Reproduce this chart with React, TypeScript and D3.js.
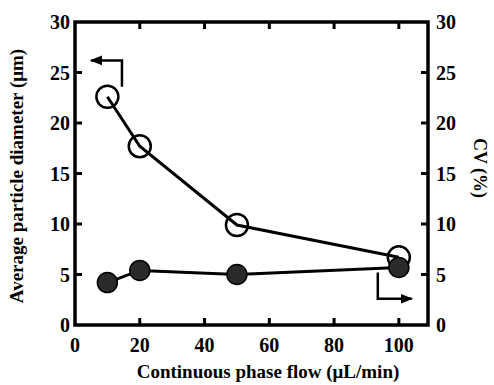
import React from "react";
import * as d3 from "d3";

const width = 494;
const height = 385;
const margin = { left: 75, right: 66, top: 22, bottom: 60 };

// flow rates (uL/min)
const flows = [10, 20, 50, 100];
// average particle diameter (um) - open circles, left axis
const diameters = [22.6, 17.7, 9.9, 6.7];
// CV (%) - filled circles, right axis
const cvs = [4.2, 5.4, 5.0, 5.7];

const xTicks = [0, 20, 40, 60, 80, 100];
const yTicks = [0, 5, 10, 15, 20, 25, 30];

const font = "'Liberation Serif', 'DejaVu Serif', serif";

export default function App() {
  const x = d3
    .scaleLinear()
    .domain([0, 109])
    .range([margin.left, width - margin.right]);
  const yL = d3
    .scaleLinear()
    .domain([0, 30])
    .range([height - margin.bottom, margin.top]);
  const yR = d3
    .scaleLinear()
    .domain([0, 30])
    .range([height - margin.bottom, margin.top]);

  const diamLine = d3
    .line<number>()
    .x((d, i) => x(flows[i]))
    .y(d => yL(d));
  const cvLine = d3
    .line<number>()
    .x((d, i) => x(flows[i]))
    .y(d => yR(d));

  const x0 = x(0);
  const x1 = width - margin.right;
  const y0 = height - margin.bottom;
  const y1 = margin.top;

  // legend arrows, placed in data units
  const la = { xs: x(14.5), xe: x(5), yb: yL(23.6), yt: yL(26.2) };
  const ra = { xs: x(93.5), xe: x(104), yt: yR(5.2), yb: yR(2.6) };

  return (
    <svg
      width={width}
      height={height}
      style={{ position: "absolute", left: 0, top: 0, background: "#fff" }}
    >
      <defs>
        <marker
          id="ah"
          viewBox="0 0 10 10"
          refX="9"
          refY="5"
          markerWidth="5"
          markerHeight="5"
          orient="auto"
        >
          <path d="M0,1 L10,5 L0,9 Z" fill="#000" />
        </marker>
      </defs>

      {/* frame */}
      <rect
        x={x0}
        y={y1}
        width={x1 - x0}
        height={y0 - y1}
        fill="none"
        stroke="#000"
        strokeWidth={3.5}
      />

      {/* x ticks */}
      {xTicks.map(t => (
        <g key={"x" + t}>
          {t > 0 && (
            <>
              <line x1={x(t)} x2={x(t)} y1={y0} y2={y0 - 7} stroke="#000" strokeWidth={3} />
              <line x1={x(t)} x2={x(t)} y1={y1} y2={y1 + 7} stroke="#000" strokeWidth={3} />
            </>
          )}
          <text
            x={x(t)}
            y={y0 + 27}
            textAnchor="middle"
            fontFamily={font}
            fontWeight="bold"
            fontSize={20}
          >
            {t}
          </text>
        </g>
      ))}

      {/* y ticks left and right */}
      {yTicks.map(t => (
        <g key={"y" + t}>
          {t > 0 && t < 30 && (
            <>
              <line x1={x0} x2={x0 + 7} y1={yL(t)} y2={yL(t)} stroke="#000" strokeWidth={3} />
              <line x1={x1} x2={x1 - 7} y1={yR(t)} y2={yR(t)} stroke="#000" strokeWidth={3} />
            </>
          )}
          <text
            x={x0 - 5}
            y={yL(t) + 7}
            textAnchor="end"
            fontFamily={font}
            fontWeight="bold"
            fontSize={20}
          >
            {t}
          </text>
          <text
            x={x1 + 8}
            y={yR(t) + 7}
            textAnchor="start"
            fontFamily={font}
            fontWeight="bold"
            fontSize={20}
          >
            {t}
          </text>
        </g>
      ))}

      {/* lines */}
      <path d={diamLine(diameters) || ""} fill="none" stroke="#000" strokeWidth={3} />
      <path d={cvLine(cvs) || ""} fill="none" stroke="#000" strokeWidth={3} />

      {/* diameter points, open */}
      {diameters.map((v, i) => (
        <circle
          key={"d" + i}
          cx={x(flows[i])}
          cy={yL(v)}
          r={11}
          fill="none"
          stroke="#000"
          strokeWidth={2.5}
        />
      ))}

      {/* CV points, filled */}
      {cvs.map((v, i) => (
        <circle key={"c" + i} cx={x(flows[i])} cy={yR(v)} r={10} fill="#2a2a2a" stroke="#000" strokeWidth={1.5} />
      ))}

      {/* legend arrows */}
      <path
        d={`M${la.xs},${la.yb} L${la.xs},${la.yt} L${la.xe},${la.yt}`}
        fill="none"
        stroke="#000"
        strokeWidth={2.5}
        markerEnd="url(#ah)"
      />
      <path
        d={`M${ra.xs},${ra.yt} L${ra.xs},${ra.yb} L${ra.xe},${ra.yb}`}
        fill="none"
        stroke="#000"
        strokeWidth={2.5}
        markerEnd="url(#ah)"
      />

      {/* axis titles */}
      <text
        transform={`translate(23,${176}) rotate(-90)`}
        textAnchor="middle"
        fontFamily={font}
        fontWeight="bold"
        fontSize={19}
      >
        Average particle diameter (μm)
      </text>
      <text
        transform={`translate(474,${168}) rotate(90)`}
        textAnchor="middle"
        fontFamily={font}
        fontWeight="bold"
        fontSize={18}
      >
        CV (%)
      </text>
      <text
        x={268}
        y={378}
        textAnchor="middle"
        fontFamily={font}
        fontWeight="bold"
        fontSize={19}
      >
        Continuous phase flow (μL/min)
      </text>
    </svg>
  );
}
